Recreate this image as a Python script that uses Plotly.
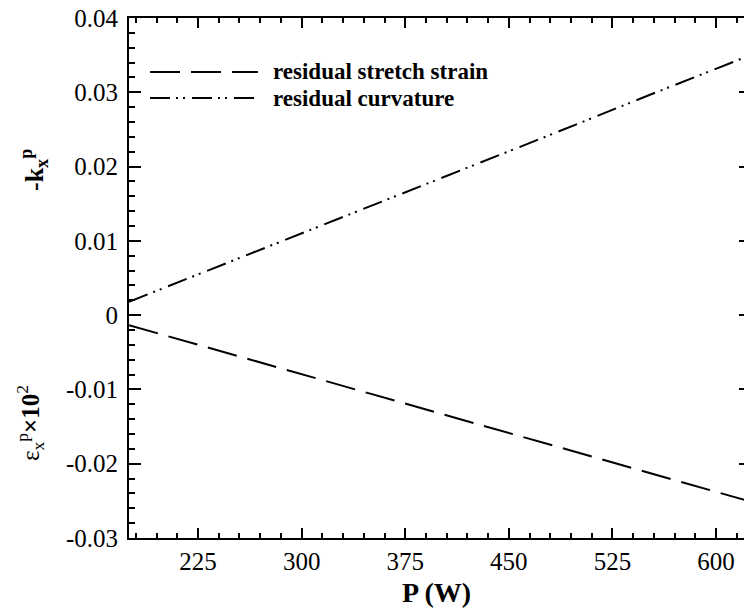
import plotly.graph_objects as go

# ---- data ----
power_w = [175, 250, 325, 400, 475, 550, 625]
stretch_strain = [-0.00135, -0.0053, -0.0093, -0.0132, -0.0172, -0.0212, -0.0251]
curvature = [0.0018, 0.0073, 0.0129, 0.0184, 0.0239, 0.0295, 0.0350]

series_names = ["residual stretch strain", "residual curvature"]
series_values = [stretch_strain, curvature]
series_dash = ["30px,11px", "20px,6px,2px,5px,2px,7px"]
series_axis = ["y", "y2"]

x_tickvals = [225, 300, 375, 450, 525, 600]
x_ticktext = ["225", "300", "375", "450", "525", "600"]
y_tickvals = [-0.03, -0.02, -0.01, 0, 0.01, 0.02, 0.03, 0.04]
y_ticktext = ["-0.03", "-0.02", "-0.01", "0", "0.01", "0.02", "0.03", "0.04"]

# ---- layout geometry (pixels) ----
W, H = 744, 612
ML, MT, MB, MR = 129, 18, 74, 0
PW, PH = W - ML - MR, H - MT - MB

def px(xp):
    return (xp - ML) / PW

def py(yp):
    return (H - MB - yp) / PH

FONT = "Liberation Serif"

fig = go.Figure()
for name, vals, dash, ax in zip(series_names, series_values, series_dash, series_axis):
    fig.add_trace(go.Scatter(x=power_w, y=vals, mode="lines", name=name, yaxis=ax,
                             line=dict(color="black", width=2, dash=dash),
                             showlegend=False))

# custom legend (long line samples like the reference)
shapes = []
annotations = []
legend_rows = [72, 98]
for (name, dash), yrow in zip(zip(series_names, series_dash), legend_rows):
    shapes.append(dict(type="line", xref="paper", yref="paper",
                       x0=px(150), x1=px(258), y0=py(yrow), y1=py(yrow),
                       line=dict(color="black", width=2, dash=dash)))
    annotations.append(dict(xref="paper", yref="paper", x=px(271), y=py(yrow),
                            text="<b>" + name + "</b>", showarrow=False,
                            xanchor="left", yanchor="middle",
                            font=dict(family=FONT, size=23, color="black")))

# y-axis titles
annotations.append(dict(xref="paper", yref="paper", x=px(34), y=py(170),
                        text="<b>-k<sub>x</sub><sup>p</sup></b>", textangle=-90,
                        showarrow=False, xanchor="center", yanchor="middle",
                        font=dict(family=FONT, size=26, color="black")))
annotations.append(dict(xref="paper", yref="paper", x=px(30), y=py(423),
                        text="ε<sub>x</sub><sup>p</sup><b>×10</b><sup>2</sup>", textangle=-90,
                        showarrow=False, xanchor="center", yanchor="middle",
                        font=dict(family=FONT, size=25, color="black")))

fig.update_layout(
    width=W, height=H,
    margin=dict(l=ML, r=MR, t=MT, b=MB, pad=0),
    paper_bgcolor="white", plot_bgcolor="white",
    font=dict(family=FONT, size=25, color="black"),
    shapes=shapes, annotations=annotations,
    xaxis=dict(range=[175, 620.3], tickmode="array", tickvals=x_tickvals, ticktext=x_ticktext,
               ticks="inside", ticklen=10, tickwidth=2, tickcolor="black",
               showline=True, linewidth=2, linecolor="black", mirror="ticks",
               showgrid=False, zeroline=False,
               minor=dict(tickmode="linear", tick0=0, dtick=15, ticks="inside",
                          ticklen=5, tickwidth=2, tickcolor="black", showgrid=False),
               tickfont=dict(family=FONT, size=25, color="black"),
               title=dict(text="<b>P (W)</b>", font=dict(family=FONT, size=28, color="black"),
                          standoff=8)),
    yaxis=dict(range=[-0.03, 0.04], tickmode="array", tickvals=y_tickvals, ticktext=y_ticktext,
               ticks="inside", ticklen=12, tickwidth=2, tickcolor="black",
               showline=True, linewidth=2, linecolor="black", mirror=False,
               showgrid=False, zeroline=False, ticklabelstandoff=4,
               minor=dict(tickmode="linear", tick0=0, dtick=0.002, ticks="inside",
                          ticklen=6, tickwidth=2, tickcolor="black", showgrid=False),
               tickfont=dict(family=FONT, size=25, color="black")),
    yaxis2=dict(range=[-0.03, 0.04], overlaying="y", side="right", tickmode="array",
                tickvals=y_tickvals, showticklabels=False, ticks="inside", ticklen=5,
                tickwidth=2, tickcolor="black", showline=False, showgrid=False,
                zeroline=False),
)

fig.write_html("out.html")
